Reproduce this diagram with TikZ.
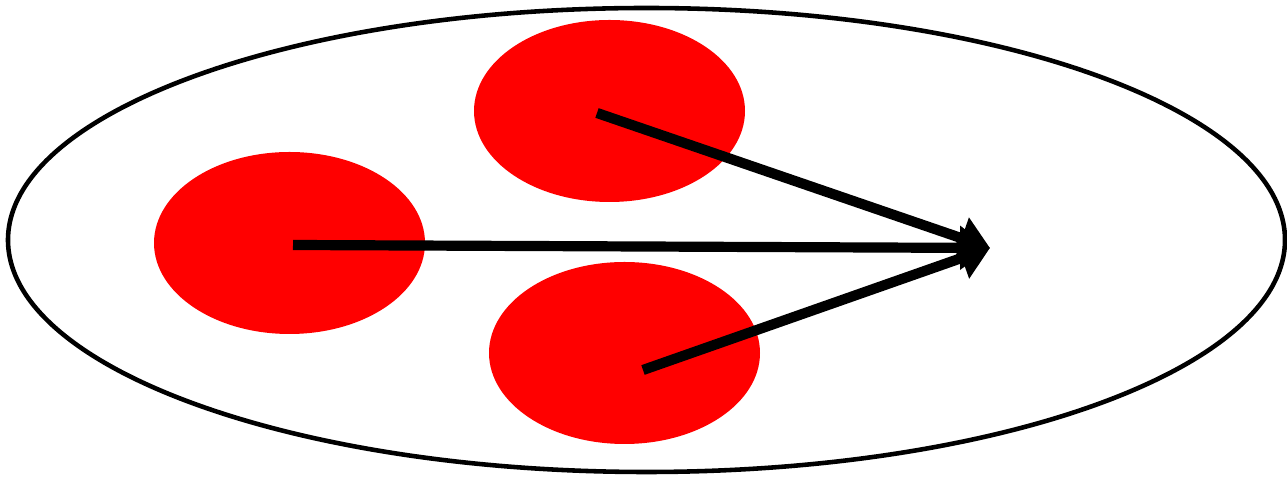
\documentclass[tikz,border=0pt]{standalone}
\usepackage{tikz}
\usetikzlibrary{arrows.meta,positioning,calc,shapes.geometric}

\begin{document}
\begin{tikzpicture}[
  x=1cm,y=1cm,
  outer/.style={
    draw=black,
    line width=2.6pt,
    ellipse,
    inner sep=0pt,
    minimum width=25.54cm,
    minimum height=9.28cm
  },
  blob/.style={
    fill=red,
    ellipse,
    inner sep=0pt,
    minimum width=5.42cm,
    minimum height=3.64cm
  },
  thickarrow/.style={
    draw=black,
    line width=5.8pt,
    -{Triangle[length=17pt,width=24pt]}
  },
]
\useasboundingbox (0,0) rectangle (25.74,9.56);

% Outer set
\node[outer] (set) at (12.93,4.76) {};

% Red blobs
\node[blob] (L) at (5.79,4.70) {};
\node[blob] (T) at (12.19,7.34) {};
\node[blob] (B) at (12.49,2.50) {};

% Arrow ends
\coordinate (Ls) at (5.86,4.66);
\coordinate (Ts) at (11.94,7.30);
\coordinate (Bs) at (12.86,2.16);
\coordinate (tip) at (19.80,4.60);

% Arrows
\draw[thickarrow] (Ts) -- (tip);
\draw[thickarrow] (Ls) -- (tip);
\draw[thickarrow] (Bs) -- (tip);

\end{tikzpicture}
\end{document}
